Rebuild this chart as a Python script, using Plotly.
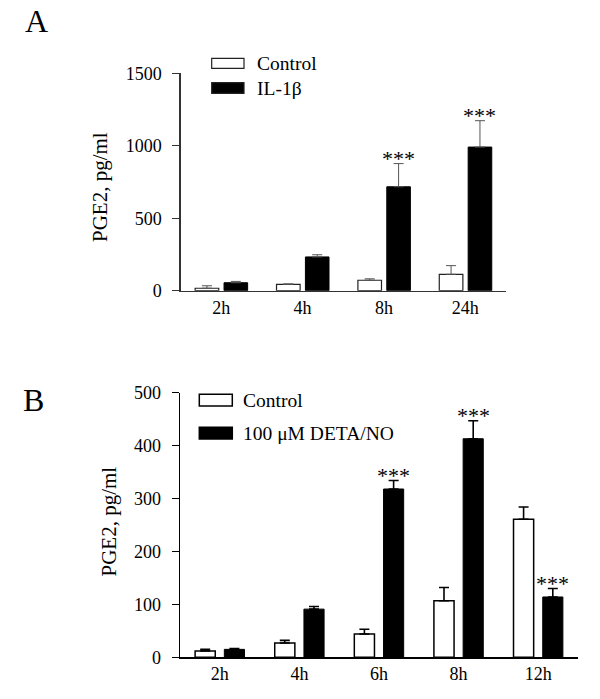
import plotly.graph_objects as go

# ---------------- data ----------------
cats_a = ["2h", "4h", "8h", "24h"]
series_a = ["Control", "IL-1β"]
ctrl_a = [17, 44, 72, 113]
ctrl_a_err = [17, 3, 10, 60]
il1b_a = [55, 233, 717, 991]
il1b_a_err = [9, 15, 160, 182]
stars_a = ["", "", "***", "***"]

cats_b = ["2h", "4h", "6h", "8h", "12h"]
series_b = ["Control", "100 μM DETA/NO"]
ctrl_b = [12, 27, 44, 107, 261]
ctrl_b_err = [3, 5, 9, 25, 23]
deta_b = [15, 91, 318, 413, 114]
deta_b_err = [1.5, 5, 16, 34, 16]
stars_b = ["", "", "***", "***", "***"]

yticks_a = [0, 500, 1000, 1500]
yticks_b = [0, 100, 200, 300, 400, 500]
ytitle = "PGE2, pg/ml"

# ---------------- helpers ----------------
W, H = 600, 699
FONT = "Liberation Serif, Times New Roman, serif"


def px(x):
    return x / W


def py(y):
    return 1 - y / H


fig = go.Figure()

idx_a = list(range(len(cats_a)))
idx_b = list(range(len(cats_b)))

# Panel A bars
fig.add_trace(go.Bar(
    x=idx_a, y=ctrl_a, name=series_a[0], xaxis="x", yaxis="y",
    width=0.29, offset=-0.32,
    marker=dict(color="white", line=dict(color="#222", width=1.2)),
    error_y=dict(type="data", symmetric=False, array=ctrl_a_err,
                 arrayminus=[0] * len(ctrl_a), color="#555", thickness=1, width=5),
    showlegend=False))
fig.add_trace(go.Bar(
    x=idx_a, y=il1b_a, name=series_a[1], xaxis="x", yaxis="y",
    width=0.29, offset=0.035,
    marker=dict(color="black", line=dict(color="black", width=1)),
    error_y=dict(type="data", symmetric=False, array=il1b_a_err,
                 arrayminus=[0] * len(il1b_a), color="#555", thickness=1, width=5),
    showlegend=False))

# Panel B bars
fig.add_trace(go.Bar(
    x=idx_b, y=ctrl_b, name=series_b[0], xaxis="x2", yaxis="y2",
    width=0.253, offset=-0.31,
    marker=dict(color="white", line=dict(color="black", width=1.5)),
    error_y=dict(type="data", symmetric=False, array=ctrl_b_err,
                 arrayminus=[0] * len(ctrl_b), color="black", thickness=1.6, width=5),
    showlegend=False))
fig.add_trace(go.Bar(
    x=idx_b, y=deta_b, name=series_b[1], xaxis="x2", yaxis="y2",
    width=0.253, offset=0.057,
    marker=dict(color="black", line=dict(color="black", width=1)),
    error_y=dict(type="data", symmetric=False, array=deta_b_err,
                 arrayminus=[0] * len(deta_b), color="black", thickness=1.6, width=5),
    showlegend=False))

annotations = []
# significance stars
for i, s in enumerate(stars_a):
    if s:
        annotations.append(dict(x=i + 0.035 + 0.145, y=il1b_a[i] + il1b_a_err[i],
                                xref="x", yref="y", text=s, showarrow=False,
                                yanchor="bottom", yshift=-9,
                                font=dict(family=FONT, size=22, color="black")))
for i, s in enumerate(stars_b):
    if s:
        annotations.append(dict(x=i + 0.057 + 0.1265, y=deta_b[i] + deta_b_err[i],
                                xref="x2", yref="y2", text=s, showarrow=False,
                                yanchor="bottom", yshift=-9,
                                font=dict(family=FONT, size=22, color="black")))

# panel letters
annotations.append(dict(x=px(23), y=py(21), xref="paper", yref="paper", text="A",
                        showarrow=False, xanchor="left", yanchor="middle",
                        font=dict(family=FONT, size=32, color="black")))
annotations.append(dict(x=px(21), y=py(400), xref="paper", yref="paper", text="B",
                        showarrow=False, xanchor="left", yanchor="middle",
                        font=dict(family=FONT, size=32, color="black")))

# y titles
annotations.append(dict(x=px(99.5), y=py(187.5), xref="paper", yref="paper", text=ytitle,
                        showarrow=False, textangle=-90, xanchor="center", yanchor="middle",
                        font=dict(family=FONT, size=21, color="black")))
annotations.append(dict(x=px(108), y=py(521.5), xref="paper", yref="paper", text=ytitle,
                        showarrow=False, textangle=-90, xanchor="center", yanchor="middle",
                        font=dict(family=FONT, size=21, color="black")))

# manual legends
shapes = []
leg_a = [(series_a[0], "white", 58.3, 68.3), (series_a[1], "black", 82.7, 93.3)]
for name, col, y0, y1 in leg_a:
    shapes.append(dict(type="rect", xref="paper", yref="paper",
                       x0=px(211.7), x1=px(244), y0=py(y1), y1=py(y0),
                       fillcolor=col, line=dict(color="#222", width=1.2)))
    annotations.append(dict(x=px(255), y=py((y0 + y1) / 2), xref="paper", yref="paper",
                            text=name, showarrow=False, xanchor="left", yanchor="middle",
                            font=dict(family=FONT, size=19.5, color="black")))
leg_b = [(series_b[0], "white", 394.3, 406), (series_b[1], "black", 427.3, 439)]
for name, col, y0, y1 in leg_b:
    shapes.append(dict(type="rect", xref="paper", yref="paper",
                       x0=px(199.3), x1=px(232.3), y0=py(y1), y1=py(y0),
                       fillcolor=col, line=dict(color="black", width=1.5)))
    annotations.append(dict(x=px(240.5), y=py((y0 + y1) / 2), xref="paper", yref="paper",
                            text=name, showarrow=False, xanchor="left", yanchor="middle",
                            font=dict(family=FONT, size=19.5, color="black")))

tickfont = dict(family=FONT, size=18, color="black")

fig.update_layout(
    template="none",
    width=W, height=H,
    margin=dict(l=0, r=0, t=0, b=0, pad=0),
    paper_bgcolor="white", plot_bgcolor="white",
    barmode="overlay",
    showlegend=False,
    hovermode=False,
    xaxis=dict(domain=[px(180.5), px(506)], range=[-0.5, len(cats_a) - 0.5],
               tickvals=idx_a, ticktext=cats_a, showline=True, linecolor="#333",
               linewidth=1.2, ticks="", showgrid=False, zeroline=False,
               tickfont=tickfont, anchor="y", fixedrange=True, automargin=False),
    yaxis=dict(domain=[py(290.7), py(73.3)], range=[0, 1500], tickvals=yticks_a,
               showline=True, linecolor="#333", linewidth=1.2, ticks="outside",
               ticklen=7, tickcolor="#333", tickwidth=1.2, showgrid=False,
               zeroline=False, tickfont=tickfont, anchor="x", fixedrange=True,
               automargin=False, ticklabelstandoff=7),
    xaxis2=dict(domain=[px(180), px(578)], range=[-0.5, len(cats_b) - 0.5],
                tickvals=idx_b, ticktext=cats_b, showline=True, linecolor="black",
                linewidth=1.5, ticks="", showgrid=False, zeroline=False,
                tickfont=tickfont, anchor="y2", fixedrange=True, automargin=False),
    yaxis2=dict(domain=[py(657.3), py(392.7)], range=[0, 500], tickvals=yticks_b,
                showline=True, linecolor="black", linewidth=1.5, ticks="outside",
                ticklen=7, tickcolor="black", tickwidth=1.5, showgrid=False,
                zeroline=False, tickfont=tickfont, anchor="x2", fixedrange=True,
                automargin=False, ticklabelstandoff=7),
    annotations=annotations,
    shapes=shapes,
)

# remove the default page margin so the figure fills the window exactly
fig.write_html("out.html", config={"displayModeBar": False, "staticPlot": True},
               post_script="document.body.style.margin='0px';")
